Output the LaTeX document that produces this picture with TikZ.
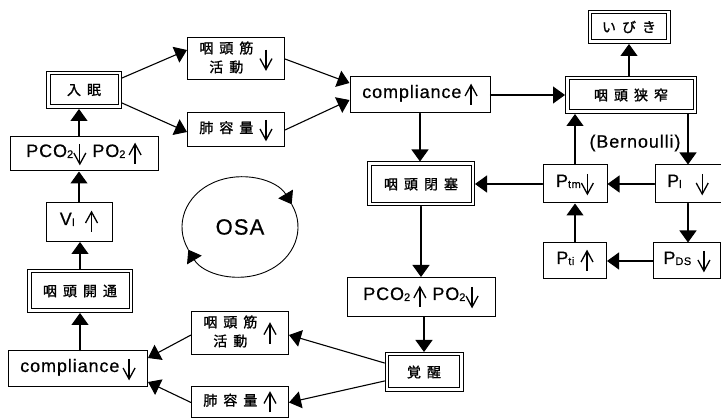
\documentclass[tikz,border=0pt]{standalone}
\usepackage{fontspec}
\setmainfont{Liberation Sans}[LetterSpace=5, FakeBold=0.6]
\newfontfamily\jp{Noto Sans CJK JP}[FakeBold=1.2]
\usetikzlibrary{arrows.meta}

\newcommand\upar{\tikz[baseline=0pt, x=1pt, y=1pt, line width=1.3pt, line cap=butt, line join=miter]
    {\draw (0,-7) -- (0,12.5); \draw (-6,2) -- (0,13) -- (6,2);}}
\newcommand\dnar{\tikz[baseline=0pt, x=1pt, y=1pt, line width=1.3pt, line cap=butt, line join=miter]
    {\draw (0,13) -- (0,-6.5); \draw (-6,4) -- (0,-7) -- (6,4);}}
\newcommand\lo[1]{\raisebox{-1pt}{\fontsize{11}{11}\selectfont #1}}
\newcommand\jk{\hspace{6pt}}
\newcommand\jt[1]{{\jp\fontsize{14}{19}\selectfont #1}}

\begin{document}
\begin{tikzpicture}[x=1pt, y=1pt,
                    >={Triangle[length=12pt,width=17pt]}, line cap=round,
                    line width=1.1pt,
                    every node/.style={font=\fontsize{18}{21}\selectfont},
                    box/.style={draw, line width=1pt, inner sep=0pt},
                    dbox/.style={box, path picture={
                        \draw [line width=1pt]
                          ([shift={(3.5pt,-3.5pt)}]path picture bounding box.north west) rectangle
                          ([shift={(-3.5pt,3.5pt)}]path picture bounding box.south east);}}
                   ]
    \useasboundingbox (0,0) rectangle (721,418);

    % left loop
    \node (nyumin)  at (84,328)  [dbox, minimum width=75, minimum height=37] {\jt{入\jk 眠}};
    \node (pcoA)    at (84,264)  [box, minimum width=148, minimum height=34] {PCO\lo{2}\dnar\ PO\lo{2}\,\upar};
    \node (vi)      at (79,196)  [box, minimum width=66, minimum height=39]  {V\lo{I}\hspace{10pt}\upar};
    \node (kaitsu)  at (80,127)  [dbox, minimum width=105, minimum height=43] {\jt{咽\jk 頭\jk 開\jk 通}};
    \node (compB)   at (78,49)   [box, minimum width=139, minimum height=36] {compliance\,\dnar};
    \node (kinB)    at (240,85)  [box, minimum width=97, minimum height=43]
        {\jt{\begin{tabular}{@{}c@{}}咽\jk 頭\jk 筋\\活\jk 動\end{tabular}}\hspace{6pt}\upar};
    \node (haiB)    at (240,15.5) [box, minimum width=97, minimum height=31] {\jt{肺\jk 容\jk 量}\hspace{6pt}\upar};
    \node (kakusei) at (424,46)  [dbox, minimum width=78, minimum height=39] {\jt{覚\jk 醒}};

    % upper path
    \node (kinA)    at (236,359) [box, minimum width=97, minimum height=42]
        {\jt{\begin{tabular}{@{}c@{}}咽\jk 頭\jk 筋\\活\jk 動\end{tabular}}\hspace{6pt}\dnar};
    \node (haiA)    at (236,288) [box, minimum width=97, minimum height=34] {\jt{肺\jk 容\jk 量}\hspace{6pt}\dnar};
    \node (compA)   at (420,323) [box, minimum width=140, minimum height=36] {compliance\,\upar};
    \node (heisoku) at (421,234) [dbox, minimum width=107, minimum height=44] {\jt{咽\jk 頭\jk 閉\jk 塞}};
    \node (pcoB)    at (421,121) [box, minimum width=148, minimum height=39] {PCO\lo{2}\,\upar\ PO\lo{2}\dnar};

    % right block
    \node (kyosaku) at (631,323) [dbox, minimum width=131, minimum height=37] {\jt{咽\jk 頭\jk 狭\jk 窄}};
    \node (ibiki)   at (629,391) [dbox, minimum width=82, minimum height=33]  {\jt{い\jk び\jk き}};
    \node (ptm)     at (575,234) [box, minimum width=64, minimum height=38] {P\lo{tm}\dnar};
    \node (pl)      at (688,234) [box, minimum width=66, minimum height=38] {P\lo{l}\hspace{14pt}\dnar};
    \node (pti)     at (575,157) [box, minimum width=63, minimum height=36] {P\lo{ti}\hspace{6pt}\upar};
    \node (pds)     at (687,157) [box, minimum width=67, minimum height=36] {P\lo{DS}\hspace{6pt}\dnar};
    \node (bern)    at (635,275) {(Bernoulli)};

    \node (osa)     at (240,191) [font=\fontsize{22}{24}\selectfont] {OSA};

    % connectors
    \draw [->] ([yshift=12pt]nyumin.east) -- ([yshift=9pt]kinA.west);
    \draw [->] ([yshift=-13pt]nyumin.east) -- ([yshift=-2pt]haiA.west);
    \draw [->] (kinA.east) -- ([yshift=12pt]compA.west);
    \draw [->] (haiA.east) -- ([yshift=-5pt]compA.west);
    \draw [->] (compA.east) -- (kyosaku.west);
    \draw [->] (compA.south) -- (compA.south |- heisoku.north);
    \draw [->] (kyosaku.north -| ibiki) -- (ibiki.south);
    \draw [->] (pl.north |- kyosaku.south) -- (pl.north);
    \draw [->] (ptm.north) -- (ptm.north |- kyosaku.south);
    \draw [->] (pl.west) -- (ptm.east);
    \draw [->] (ptm.west) -- (heisoku.east);
    \draw [->] (pl.south) -- (pl.south |- pds.north);
    \draw [->] (pds.west) -- (pti.east);
    \draw [->] (pti.north) -- (ptm.south);
    \draw [->] (heisoku.south) -- (heisoku.south |- pcoB.north);
    \draw [->] (kakusei.north |- pcoB.south) -- (kakusei.north);
    \draw [->] ([yshift=9pt]kakusei.west) -- ([yshift=-2pt]kinB.east);
    \draw [->] ([yshift=-9pt]kakusei.west) -- (haiB.east);
    \draw [->] ([yshift=-2pt]kinB.west) -- ([yshift=11pt]compB.east);
    \draw [->] (haiB.west) -- ([yshift=-13pt]compB.east);
    \draw [->] (kaitsu.south |- compB.north) -- (kaitsu.south);
    \draw [->] (kaitsu.north) -- (kaitsu.north |- vi.south);
    \draw [->] (vi.north) -- (vi.north |- pcoA.south);
    \draw [->] (vi.north |- pcoA.north) -- (vi.north |- nyumin.south);

    \draw [->, line width=0.9pt] (osa) ++(207:58 and 50) arc[start angle=207, end angle=27, x radius=58, y radius=50];
    \draw [->, line width=0.9pt] (osa) ++(27:58 and 50) arc[start angle=27, end angle=-153, x radius=58, y radius=50];
\end{tikzpicture}
\end{document}
